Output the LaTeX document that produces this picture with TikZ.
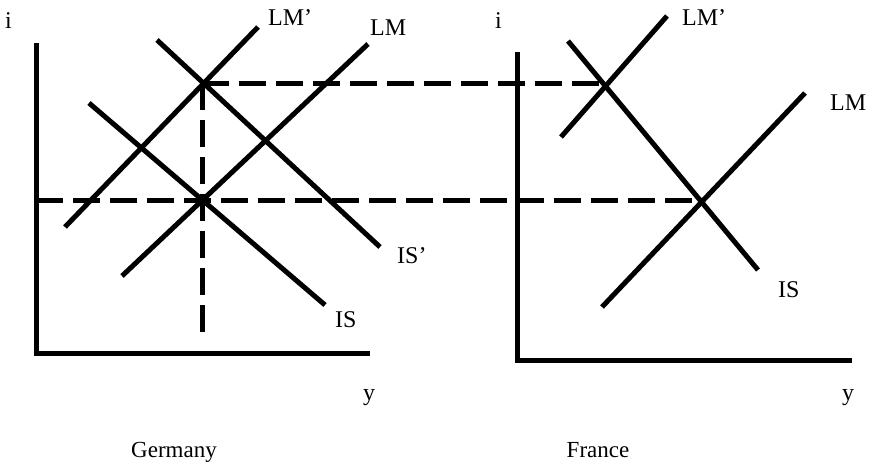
\documentclass[tikz,border=0pt]{standalone}
\usepackage{fontspec}
\setmainfont{Liberation Serif}
\begin{document}
\begin{tikzpicture}[x=1pt,y=-1pt,
  curve/.style={line width=5pt},
  axisline/.style={line width=5pt},
  guide/.style={line width=5pt, dash pattern=on 27pt off 10pt},
  lbl/.style={inner sep=0pt, anchor=base west, font=\fontsize{24}{28}\selectfont},
  captionlbl/.style={inner sep=0pt, anchor=base, font=\fontsize{23}{28}\selectfont}]
\useasboundingbox (0,0) rectangle (873,463);
% Germany
\coordinate (gtop) at (36,43);
\coordinate (gorig) at (36,353);
\coordinate (gend) at (370,353);
\coordinate (A) at (202,83);
\coordinate (B) at (202,200);
\coordinate (Bl) at (36,200);
\coordinate (Ad) at (202,340);
\coordinate (glmp1) at (65,227);
\coordinate (glmp2) at (258,27);
\coordinate (glm1) at (122,276);
\coordinate (glm2) at (368,44);
\coordinate (gisp1) at (157,40);
\coordinate (gisp2) at (380,247);
\coordinate (gis1) at (89,103);
\coordinate (gis2) at (325,305);
% France
\coordinate (ftop) at (517,52);
\coordinate (forig) at (517,360);
\coordinate (fend) at (852,360);
\coordinate (C) at (603,83);
\coordinate (D) at (702,200);
\coordinate (flmp1) at (561,137);
\coordinate (flmp2) at (667,16);
\coordinate (flm1) at (602,307);
\coordinate (flm2) at (805,93);
\coordinate (fis1) at (568,41);
\coordinate (fis2) at (758,270);

\draw[axisline] (gtop) -- (gorig) -- (gend);
\draw[axisline] (ftop) -- (forig) -- (fend);
\draw[curve] (glmp1) -- (glmp2);
\draw[curve] (glm1) -- (glm2);
\draw[curve] (gisp1) -- (gisp2);
\draw[curve] (gis1) -- (gis2);
\draw[curve] (flmp1) -- (flmp2);
\draw[curve] (flm1) -- (flm2);
\draw[curve] (fis1) -- (fis2);
\draw[guide] (A) -- (C);
\draw[guide] (Bl) -- (D);
\draw[guide] (A) -- (Ad);

\node[lbl] (gi) at (5,28) {i};
\node[lbl] (glmpl) at (268,25) {LM’};
\node[lbl] (glml) at (370,35) {LM};
\node[lbl] (gispl) at (397,263) {IS’};
\node[lbl] (gisl) at (335,327) {IS};
\node[lbl] (gy) at (363,400) {y};
\node[captionlbl] (gname) at (174,457) {Germany};
\node[lbl] (fi) at (495,28) {i};
\node[lbl] (flmpl) at (682,25) {LM’};
\node[lbl] (flml) at (830,110) {LM};
\node[lbl] (fisl) at (778,297) {IS};
\node[lbl] (fy) at (842,400) {y};
\node[captionlbl] (fname) at (598,457) {France};
\end{tikzpicture}
\end{document}
